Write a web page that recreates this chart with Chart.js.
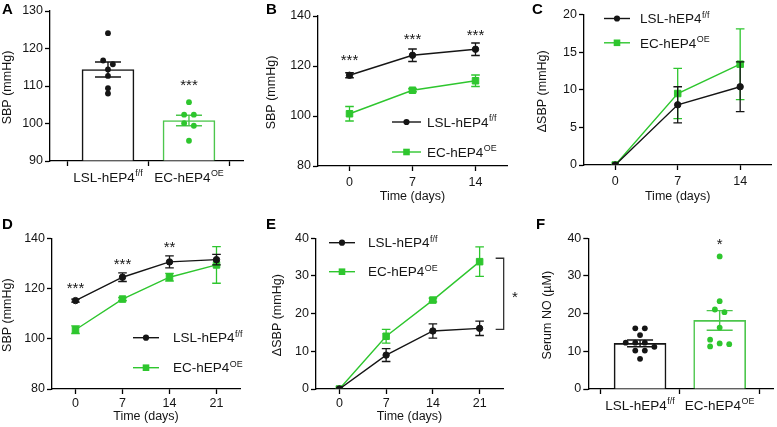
<!DOCTYPE html>
<html><head><meta charset="utf-8">
<script src="https://cdn.jsdelivr.net/npm/chart.js@4"></script>
<style>
html,body{margin:0;padding:0;background:#fff;}
#wrap{position:relative;width:777px;height:427px;overflow:hidden;background:#fff;}
#wrap canvas{position:absolute;left:0;top:0;}
</style></head><body><div id="wrap">
<canvas id="cA" width="777" height="427"></canvas>
<canvas id="cB" width="777" height="427"></canvas>
<canvas id="cC" width="777" height="427"></canvas>
<canvas id="cD" width="777" height="427"></canvas>
<canvas id="cE" width="777" height="427"></canvas>
<canvas id="cF" width="777" height="427"></canvas>
</div>
<script>
// ---------------- DATA ----------------
const groupNames = ['LSL-hEP4', 'EC-hEP4'];
const groupSups = ['f/f', 'OE'];

// Panel A: baseline SBP (mmHg)
const sbpMeans = [114.4, 100.8];
const sbpSem = [2.0, 1.4];
const sbpLSL = [124.1, 116.8, 115.8, 114.4, 112.7, 109.4, 108.0];
const sbpEC = [105.7, 102.35, 102.35, 100.1, 99.4, 95.4];

// Time points
const days14 = [0, 7, 14];
const days21 = [0, 7, 14, 21];

// Panel B: SBP over 14 days
const bLSL = [116.3, 124.3, 126.7];
const bLSLsem = [1.0, 2.5, 2.5];
const bEC = [100.9, 110.3, 114.1];
const bECsem = [2.9, 0.6, 2.3];

// Panel C: delta SBP over 14 days
const cLSL = [0, 8.0, 10.4];
const cLSLsem = [0, 2.4, 3.3];
const cEC = [0, 9.5, 13.4];
const cECsem = [0, 3.35, 4.7];

// Panel D: SBP over 21 days
const dLSL = [115.2, 124.5, 130.6, 131.5];
const dLSLsem = [0.6, 1.7, 2.4, 2.1];
const dEC = [103.6, 115.8, 124.5, 129.4];
const dECsem = [1.5, 0.6, 1.5, 7.3];

// Panel E: delta SBP over 21 days
const eLSL = [0, 9.0, 15.4, 16.1];
const eLSLsem = [0, 1.7, 1.9, 1.9];
const eEC = [0, 14.0, 23.6, 33.8];
const eECsem = [0, 1.8, 0.5, 3.9];

// Panel F: serum NO (uM)
const noMeans = [12.1, 18.2];
const noSem = [0.9, 2.6];
const noLSL = [16.1, 16.1, 14.3, 12.3, 12.3, 12.3, 11.2, 10.2, 10.2, 8.0];
const noEC = [35.2, 23.3, 21.1, 20.4, 16.3, 13.1, 12.1, 11.9, 11.3];

// Significance labels
const starsA = [{x: 1, y: 111.2, t: '***'}];
const starsB = [{x: 0, y: 123.7, t: '***'}, {x: 7, y: 132.4, t: '***'}, {x: 14, y: 134.0, t: '***'}];
const starsD = [{x: 0, y: 121.8, t: '***'}, {x: 7, y: 131.1, t: '***'}, {x: 14, y: 138.0, t: '**'}];
const starsF = [{x: 1, y: 39.5, t: '*'}];

// ---------------- STYLE ----------------
const FONT = '"Liberation Sans", Arial, Helvetica, sans-serif';
const BLACK = '#151515';
const GREEN = '#2ec62e';
const GREEN_BAR = '#4cc64c';
const TICK_SIZE = 12.5;
const LABEL_SIZE = 12.5;
const LEG_SIZE = 13.5;
const STAR_SIZE = 15;
const YW = 40, XH = 30;

Chart.defaults.font.family = FONT;
Chart.defaults.color = BLACK;

function supText(ctx, x, y, base, sup, size, align) {
  ctx.save();
  ctx.fillStyle = BLACK;
  ctx.textBaseline = 'alphabetic';
  ctx.textAlign = 'left';
  ctx.font = size + 'px ' + FONT;
  const w1 = ctx.measureText(base).width;
  const ss = size * 0.66;
  ctx.font = ss + 'px ' + FONT;
  const w2 = ctx.measureText(sup).width;
  const x0 = align === 'center' ? x - (w1 + w2 + 0.5) / 2 : x;
  ctx.font = size + 'px ' + FONT;
  ctx.fillText(base, x0, y);
  ctx.font = ss + 'px ' + FONT;
  ctx.fillText(sup, x0 + w1 + 0.5, y - size * 0.42);
  ctx.restore();
}

function errBars(ctx, chart, xs, ys, sem, colors, cap, lw) {
  const xS = chart.scales.x, yS = chart.scales.y;
  ctx.save();
  ctx.lineWidth = lw;
  for (let i = 0; i < xs.length; i++) {
    if (!sem[i]) continue;
    const px = xS.getPixelForValue(xs[i]);
    const t = yS.getPixelForValue(ys[i] + sem[i]);
    const b = yS.getPixelForValue(ys[i] - sem[i]);
    ctx.strokeStyle = Array.isArray(colors) ? colors[i] : colors;
    ctx.beginPath();
    ctx.moveTo(px, t); ctx.lineTo(px, b);
    ctx.moveTo(px - cap, t); ctx.lineTo(px + cap, t);
    ctx.moveTo(px - cap, b); ctx.lineTo(px + cap, b);
    ctx.stroke();
  }
  ctx.restore();
}

function swarm(values, yPx, xPx, tolPx, stepPx) {
  const idx = values.map((v, i) => i).sort((a, b) => values[b] - values[a]);
  const offs = new Array(values.length).fill(0);
  const placed = [];
  let row = [];
  const flush = () => {
    const n = row.length;
    row.forEach((k, j) => { offs[k] = (j - (n - 1) / 2) * stepPx; });
    if (n === 1) {
      const k = row[0];
      const hit = placed.some(p => Math.abs(offs[p]) < 1 && (values[p] - values[k]) * yPx < tolPx);
      if (hit) offs[k] = -stepPx;
    }
    row.forEach(k => placed.push(k));
    row = [];
  };
  for (const k of idx) {
    if (row.length && (values[row[0]] - values[k]) * yPx >= tolPx) flush();
    row.push(k);
  }
  flush();
  return offs.map(o => o / xPx);
}

function makePlugin(cfg) {
  return {
    id: 'annot_' + cfg.letter,
    beforeDatasetDraw(chart, args) {
      (cfg.errBefore || []).forEach(e => { if (e.ds === args.index) errBars(chart.ctx, chart, e.xs, e.ys, e.sem, e.color, e.cap, 1.3); });
    },
    afterDatasetDraw(chart, args) {
      (cfg.errAfter || []).forEach(e => { if (e.ds === args.index) errBars(chart.ctx, chart, e.xs, e.ys, e.sem, e.color, e.cap, 1.4); });
    },
    afterDraw(chart) {
      const ctx = chart.ctx, xS = chart.scales.x, yS = chart.scales.y, ca = chart.chartArea;
      ctx.save();
      // panel letter
      ctx.fillStyle = '#000';
      ctx.font = 'bold 15px ' + FONT;
      ctx.textAlign = 'left'; ctx.textBaseline = 'alphabetic';
      ctx.fillText(cfg.letter, cfg.letterX, cfg.letterY);
      // y title
      ctx.fillStyle = BLACK;
      ctx.font = LABEL_SIZE + 'px ' + FONT;
      ctx.save();
      ctx.translate(cfg.yTitleX, (ca.top + ca.bottom) / 2 + 1.5);
      ctx.rotate(-Math.PI / 2);
      ctx.textAlign = 'center'; ctx.textBaseline = 'middle';
      ctx.fillText(cfg.yTitle, 0, 0);
      ctx.restore();
      // x title
      if (cfg.xTitle) {
        ctx.textAlign = 'center'; ctx.textBaseline = 'middle';
        ctx.fillText(cfg.xTitle, (ca.left + ca.right) / 2, ca.bottom + cfg.xTitleOff);
      }
      // category labels with superscripts
      if (cfg.catLabels) {
        groupNames.forEach((g, i) => supText(ctx, xS.getPixelForValue(i), ca.bottom + 20.5, g, groupSups[i], LEG_SIZE, 'center'));
      }
      // stars
      ctx.fillStyle = BLACK;
      ctx.font = STAR_SIZE + 'px ' + FONT;
      ctx.textAlign = 'center'; ctx.textBaseline = 'alphabetic';
      (cfg.stars || []).forEach(s => ctx.fillText(s.t, xS.getPixelForValue(s.x), yS.getPixelForValue(s.y) + 8.5));
      // legend
      if (cfg.legend) {
        const L = cfg.legend;
        [[BLACK, 'circle', 3.1], [GREEN, 'rect', 3.3]].forEach((st, i) => {
          const y = L.y + i * L.gap;
          const cx = (L.x1 + L.x2) / 2;
          ctx.strokeStyle = st[0]; ctx.lineWidth = 1.4;
          ctx.beginPath(); ctx.moveTo(L.x1, y); ctx.lineTo(L.x2, y); ctx.stroke();
          ctx.fillStyle = st[0];
          ctx.beginPath();
          if (st[1] === 'circle') ctx.arc(cx, y, st[2], 0, Math.PI * 2);
          else ctx.rect(cx - st[2], y - st[2], 2 * st[2], 2 * st[2]);
          ctx.fill();
          supText(ctx, L.tx, y + 4.7, groupNames[i], groupSups[i], LEG_SIZE, 'left');
        });
      }
      // bracket
      if (cfg.bracket) {
        const b = cfg.bracket;
        const xv = xS.getPixelForValue(b.x), xt = xS.getPixelForValue(b.xTick);
        const yt = yS.getPixelForValue(b.top), yb = yS.getPixelForValue(b.bottom);
        ctx.strokeStyle = '#333'; ctx.lineWidth = 1.3;
        ctx.beginPath();
        ctx.moveTo(xt, yt); ctx.lineTo(xv, yt); ctx.lineTo(xv, yb); ctx.lineTo(xt, yb);
        ctx.stroke();
        ctx.fillStyle = BLACK; ctx.font = STAR_SIZE + 'px ' + FONT; ctx.textAlign = 'center';
        ctx.fillText('*', xS.getPixelForValue(b.starX), yS.getPixelForValue((b.top + b.bottom) / 2) + 8.5);
      }
      ctx.restore();
    }
  };
}

function axisCommon() {
  return {
    grid: {drawOnChartArea: false, drawTicks: true, tickLength: 5, tickColor: '#000', tickWidth: 1.3, color: '#000'},
    border: {display: true, color: '#000', width: 1.3}
  };
}

function buildChart(id, area, xRange, xTicks, yRange, yStep, datasets, cfg, type) {
  const ax = axisCommon(), ay = axisCommon();
  const xScale = Object.assign(ax, {
    type: 'linear', min: xRange[0], max: xRange[1], offset: false,
    afterBuildTicks: s => { s.ticks = xTicks.map(v => ({value: v})); },
    afterFit: s => { s.height = XH; },
    ticks: {
      autoSkip: false, maxRotation: 0, padding: cfg.xTickPad === undefined ? 4 : cfg.xTickPad,
      font: {size: TICK_SIZE, family: FONT}, color: BLACK,
      callback: cfg.catLabels ? (() => '') : (v => String(v))
    }
  });
  const yScale = Object.assign(ay, {
    type: 'linear', min: yRange[0], max: yRange[1],
    afterFit: s => { s.width = YW; },
    ticks: {stepSize: yStep, padding: 2, font: {size: TICK_SIZE, family: FONT}, color: BLACK}
  });
  return new Chart(document.getElementById(id), {
    type: type,
    data: {datasets: datasets},
    options: {
      responsive: false, animation: false, events: [],
      layout: {padding: {left: area.L - YW, top: area.T, right: 777 - area.R, bottom: 427 - area.B - XH}},
      plugins: {legend: {display: false}, tooltip: {enabled: false}},
      scales: {x: xScale, y: yScale}
    },
    plugins: [makePlugin(cfg)]
  });
}

// ---------- bar + dots panels ----------
function barPanel(id, area, xRange, yRange, yStep, means, sem, lsl, ec, cfg) {
  const xPx = (area.R - area.L) / (xRange[1] - xRange[0]);
  const yPx = (area.B - area.T) / (yRange[1] - yRange[0]);
  const oL = swarm(lsl, yPx, xPx, 5, 9.7);
  const oE = swarm(ec, yPx, xPx, 5, 9.7);
  const datasets = [
    {type: 'bar', data: means.map((m, i) => ({x: i, y: m})), backgroundColor: '#ffffff',
     borderColor: [BLACK, GREEN_BAR], borderWidth: 1.6, barThickness: 52, base: yRange[0], order: 3},
    {type: 'scatter', data: lsl.map((v, i) => ({x: 0 + oL[i], y: v})), pointRadius: 2.9,
     pointBackgroundColor: BLACK, pointBorderColor: BLACK, pointBorderWidth: 0, order: 1},
    {type: 'scatter', data: ec.map((v, i) => ({x: 1 + oE[i], y: v})), pointRadius: 2.9,
     pointBackgroundColor: GREEN, pointBorderColor: GREEN, pointBorderWidth: 0, order: 1}
  ];
  cfg.catLabels = true;
  cfg.errAfter = [{ds: 0, xs: [0, 1], ys: means, sem: sem, color: [BLACK, GREEN_BAR], cap: 13}];
  return buildChart(id, area, xRange, [0, 1], yRange, yStep, datasets, cfg, 'bar');
}

// ---------- line panels ----------
function linePanel(id, area, xRange, days, yRange, yStep, lsl, lslSem, ec, ecSem, cfg) {
  const datasets = [
    {label: 'LSL', data: days.map((d, i) => ({x: d, y: lsl[i]})), borderColor: BLACK, backgroundColor: BLACK,
     pointStyle: 'circle', pointRadius: 3.2, pointBorderWidth: 1, pointBackgroundColor: BLACK, pointBorderColor: BLACK,
     borderWidth: 1.4, tension: 0},
    {label: 'EC', data: days.map((d, i) => ({x: d, y: ec[i]})), borderColor: GREEN, backgroundColor: GREEN,
     pointStyle: 'rect', pointRadius: 4.6, pointBorderWidth: 1, pointBackgroundColor: GREEN, pointBorderColor: GREEN,
     borderWidth: 1.4, tension: 0}
  ];
  cfg.errBefore = [
    {ds: 0, xs: days, ys: lsl, sem: lslSem, color: BLACK, cap: 4.3},
    {ds: 1, xs: days, ys: ec, sem: ecSem, color: GREEN, cap: 4.3}
  ];
  cfg.xTitle = 'Time (days)';
  return buildChart(id, area, xRange, days, yRange, yStep, datasets, cfg, 'line');
}

barPanel('cA', {L: 50, T: 11, R: 243, B: 161}, [-0.716, 1.667], [90, 130], 10, sbpMeans, sbpSem, sbpLSL, sbpEC,
  {letter: 'A', letterX: 2, letterY: 14, yTitle: 'SBP (mmHg)', yTitleX: 8, stars: starsA});

linePanel('cB', {L: 318, T: 16, R: 507, B: 166}, [-3.5, 17.5], days14, [80, 140], 20, bLSL, bLSLsem, bEC, bECsem,
  {letter: 'B', letterX: 266, letterY: 14, yTitle: 'SBP (mmHg)', yTitleX: 272, xTitleOff: 31, stars: starsB,
   legend: {x1: 392, x2: 421, y: 122, gap: 30, tx: 427}});

linePanel('cC', {L: 584, T: 14.5, R: 772, B: 165}, [-3.5, 17.5], days14, [0, 20], 5, cLSL, cLSLsem, cEC, cECsem,
  {letter: 'C', letterX: 532, letterY: 14, yTitle: '\u0394SBP (mmHg)', yTitleX: 543, xTitleOff: 31.5,
   legend: {x1: 604, x2: 630, y: 18.5, gap: 24.3, tx: 640}});

linePanel('cD', {L: 52, T: 238.3, R: 240, B: 389}, [-3.5, 24.5], days21, [80, 140], 20, dLSL, dLSLsem, dEC, dECsem,
  {letter: 'D', letterX: 2, letterY: 229, yTitle: 'SBP (mmHg)', yTitleX: 8, xTitleOff: 27.5, xTickPad: 2, stars: starsD,
   legend: {x1: 133, x2: 159, y: 337.7, gap: 30, tx: 173}});

linePanel('cE', {L: 316, T: 238.3, R: 503, B: 389}, [-3.5, 24.5], days21, [0, 40], 10, eLSL, eLSLsem, eEC, eECsem,
  {letter: 'E', letterX: 266, letterY: 229, yTitle: '\u0394SBP (mmHg)', yTitleX: 278, xTitleOff: 27.5, xTickPad: 2,
   legend: {x1: 329, x2: 355, y: 242.7, gap: 29, tx: 368},
   bracket: {x: 24.6, xTick: 23.4, top: 34.7, bottom: 15.8, starX: 26.3}});

barPanel('cF', {L: 588.3, T: 238.3, R: 776, B: 389}, [-0.65, 1.67], [0, 40], 10, noMeans, noSem, noLSL, noEC,
  {letter: 'F', letterX: 536, letterY: 229, yTitle: 'Serum NO (\u00b5M)', yTitleX: 548, stars: starsF});
</script>
</body></html>
